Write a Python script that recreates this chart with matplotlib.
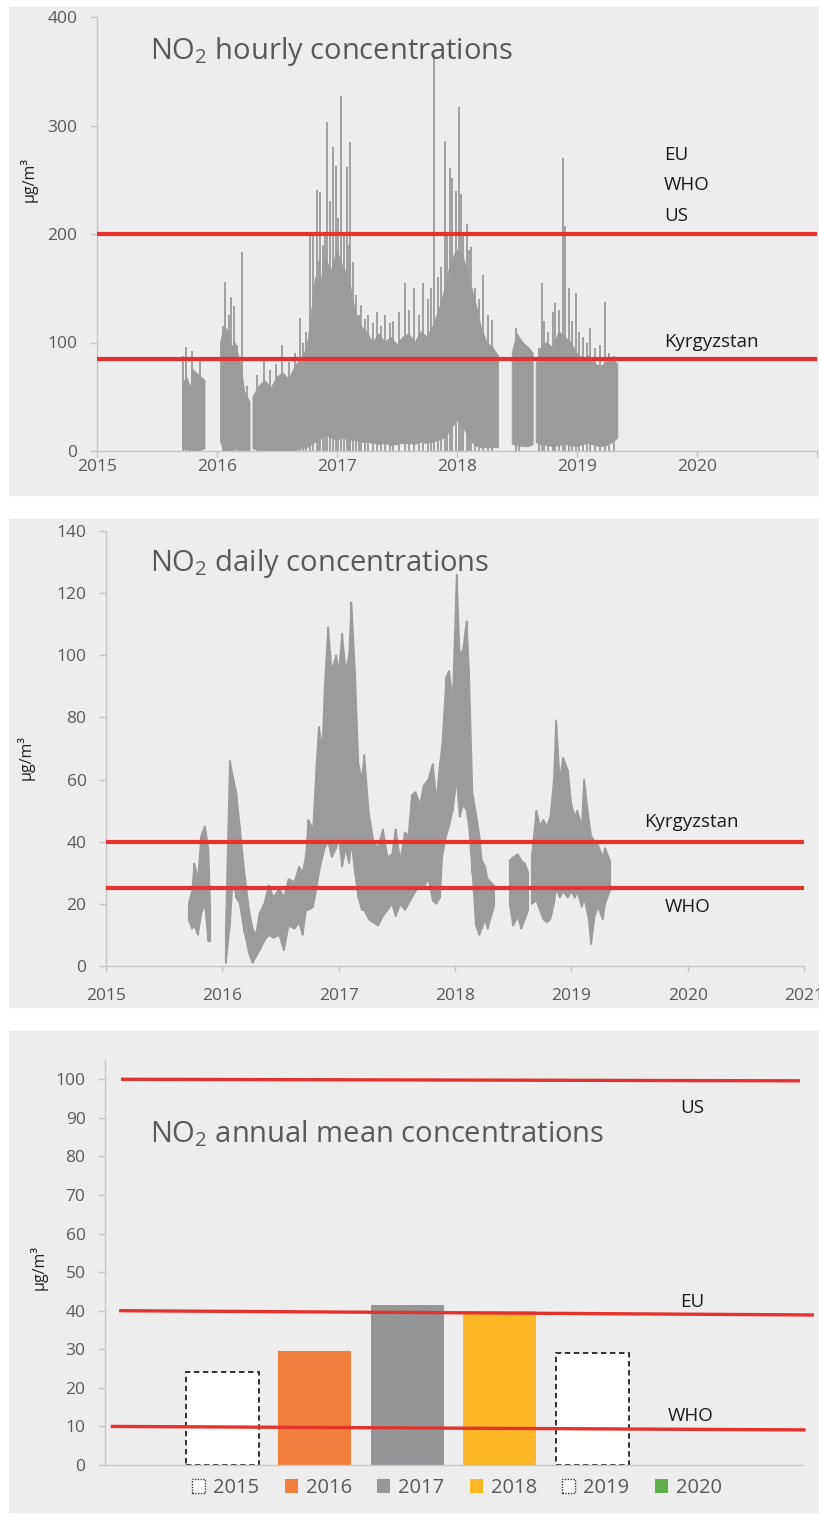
import numpy as np
import matplotlib
matplotlib.use("Agg")
import matplotlib.pyplot as plt
from matplotlib.patches import Rectangle, Patch

plt.rcParams['font.family'] = ['Open Sans', 'DejaVu Sans']

nan = np.nan

# hourly NO2: envelope of the dense band (decimal years) + individual peaks
hourly_t = [2015.714, 2015.75, 2015.78, 2015.80, 2015.85, 2015.90, nan,
            2016.03, 2016.06, 2016.10, 2016.13, 2016.15, 2016.20, 2016.23, 2016.275, nan,
            2016.30, 2016.35, 2016.40, 2016.45, 2016.50, 2016.55, 2016.60, 2016.65, 2016.70, 2016.75,
            2016.78, 2016.82, 2016.86, 2016.90, 2016.95, 2017.00, 2017.05, 2017.10, 2017.15, 2017.20,
            2017.25, 2017.30, 2017.35, 2017.40, 2017.45, 2017.50, 2017.55, 2017.60, 2017.65, 2017.70,
            2017.75, 2017.80, 2017.85, 2017.90, 2017.95,
            2018.00, 2018.05, 2018.10, 2018.15, 2018.20, 2018.25, 2018.30, 2018.345, nan,
            2018.46, 2018.50, 2018.55, 2018.60, 2018.635, nan,
            2018.66, 2018.70, 2018.75, 2018.80, 2018.85, 2018.90, 2018.95, 2019.00, 2019.05, 2019.10,
            2019.15, 2019.20, 2019.25, 2019.30, 2019.34]
hourly_hi = [62, 68, 58, 75, 70, 65, nan,
             100, 115, 110, 95, 100, 80, 55, 45, nan,
             50, 60, 65, 58, 68, 72, 66, 78, 85, 95,
             120, 160, 150, 180, 165, 185, 170, 160, 130, 115,
             110, 100, 108, 100, 105, 98, 105, 108, 100, 110,
             105, 115, 130, 150, 175,
             185, 180, 160, 140, 115, 100, 95, 88, nan,
             90, 108, 100, 95, 90, nan,
             80, 95, 100, 95, 110, 105, 100, 90, 85, 88,
             80, 78, 82, 85, 80]
hourly_lo = [2, 1, 0, 0, 0, 2, nan,
             8, 0, 0, 0, 2, 0, 0, 0, nan,
             2, 0, 0, 0, 0, 0, 0, 0, 2, 3,
             5, 8, 10, 15, 12, 10, 12, 10, 10, 8,
             8, 7, 6, 7, 5, 6, 7, 7, 6, 8,
             7, 8, 10, 12, 20,
             28, 22, 12, 5, 3, 3, 3, 3, nan,
             6, 5, 4, 4, 6, nan,
             8, 6, 5, 4, 5, 6, 5, 4, 6, 7,
             5, 4, 5, 8, 12]
peak_t = [2015.72, 2015.745, 2015.79, 2015.86, 2016.05, 2016.07, 2016.10, 2016.12, 2016.14,
          2016.17, 2016.21, 2016.25, 2016.33, 2016.39, 2016.44, 2016.49, 2016.54, 2016.60,
          2016.65, 2016.69, 2016.72, 2016.745, 2016.775, 2016.80, 2016.83, 2016.85, 2016.86,
          2016.88, 2016.90, 2016.92, 2016.94, 2016.97, 2016.99, 2017.01, 2017.035, 2017.06,
          2017.08, 2017.10, 2017.11, 2017.13, 2017.155, 2017.18, 2017.20, 2017.23, 2017.26,
          2017.30, 2017.33, 2017.37, 2017.40, 2017.44, 2017.47, 2017.52, 2017.57, 2017.60,
          2017.64, 2017.68, 2017.72, 2017.76, 2017.78, 2017.81, 2017.84, 2017.87, 2017.90,
          2017.92, 2017.94, 2017.96, 2017.99, 2018.02, 2018.03, 2018.05, 2018.08, 2018.10,
          2018.12, 2018.15, 2018.18, 2018.22, 2018.26, 2018.29, 2018.49, 2018.52, 2018.68,
          2018.71, 2018.725, 2018.76, 2018.80, 2018.82, 2018.85, 2018.88, 2018.90, 2018.93,
          2018.96, 2018.99, 2019.02, 2019.05, 2019.08, 2019.11, 2019.15, 2019.19, 2019.23,
          2019.27, 2019.31]
peak_v = [88, 96, 92, 83, 115, 156, 125, 142, 134,
          98, 183, 60, 70, 83, 75, 80, 98, 82,
          90, 123, 100, 110, 200, 200, 241, 175, 239,
          190, 200, 303, 230, 280, 263, 215, 327, 200,
          262, 190, 285, 174, 144, 125, 135, 122, 125,
          118, 128, 115, 125, 118, 120, 128, 155, 130,
          150, 125, 155, 140, 150, 365, 160, 170, 286,
          200, 261, 252, 240, 317, 237, 200, 209, 185,
          188, 150, 140, 162, 125, 121, 113, 105, 95,
          155, 120, 110, 128, 136, 130, 270, 207, 150,
          120, 146, 110, 105, 100, 113, 95, 98, 137,
          90, 88]

# daily NO2: max / min envelope
daily_t = [2015.71, 2015.74, 2015.76, 2015.79, 2015.82, 2015.85, 2015.88, 2015.895, nan,
           2016.03, 2016.065, 2016.09, 2016.12, 2016.15, 2016.19, 2016.23, 2016.26, 2016.29, 2016.32,
           2016.36, 2016.40, 2016.44, 2016.49, 2016.53, 2016.57, 2016.62, 2016.66, 2016.69, 2016.72,
           2016.74, 2016.78, 2016.81, 2016.83, 2016.86, 2016.88, 2016.91, 2016.94, 2016.98, 2017.00,
           2017.03, 2017.06, 2017.09, 2017.11, 2017.14, 2017.17, 2017.20, 2017.22, 2017.26, 2017.30,
           2017.34, 2017.38, 2017.42, 2017.46, 2017.49, 2017.53, 2017.57, 2017.60, 2017.63, 2017.66,
           2017.70, 2017.73, 2017.77, 2017.81, 2017.84, 2017.87, 2017.89, 2017.925, 2017.95, 2017.98,
           2018.015, 2018.04, 2018.07, 2018.10, 2018.12, 2018.15, 2018.18, 2018.21, 2018.23, 2018.26,
           2018.28, 2018.335, nan,
           2018.47, 2018.50, 2018.54, 2018.57, 2018.60, 2018.63, nan,
           2018.66, 2018.70, 2018.73, 2018.76, 2018.79, 2018.82, 2018.85, 2018.87, 2018.90, 2018.93,
           2018.97, 2019.00, 2019.03, 2019.05, 2019.09, 2019.11, 2019.15, 2019.17, 2019.20, 2019.23,
           2019.27, 2019.29, 2019.33]
daily_hi = [20, 24, 33, 28, 42, 45, 38, 20, nan,
            12, 66, 61, 56, 45, 30, 18, 12, 10, 17,
            20, 26, 22, 25, 22, 28, 27, 32, 30, 36,
            47, 44, 65, 77, 70, 90, 109, 95, 100, 94,
            107, 95, 100, 117, 95, 65, 60, 68, 49, 40,
            38, 44, 35, 36, 44, 34, 43, 42, 55, 56,
            52, 58, 60, 65, 53, 65, 71, 93, 95, 85,
            126, 100, 102, 111, 95, 56, 49, 42, 34, 32,
            28, 26, nan,
            34, 35, 36, 34, 33, 30, nan,
            35, 50, 45, 47, 45, 48, 60, 79, 60, 67,
            63, 52, 48, 50, 45, 60, 47, 42, 40, 39,
            35, 38, 34]
daily_lo = [15, 12, 13, 10, 17, 20, 8, 8, nan,
            1, 13, 28, 22, 20, 11, 4, 1, 3, 5,
            8, 10, 9, 10, 5, 13, 12, 14, 10, 18,
            18, 19, 25, 30, 35, 38, 40, 35, 38, 42,
            32, 38, 33, 40, 30, 22, 18, 18, 15, 14,
            13, 16, 18, 20, 16, 20, 18, 20, 22, 24,
            26, 25, 28, 21, 20, 22, 35, 42, 45, 50,
            60, 48, 52, 50, 45, 30, 13, 10, 12, 15,
            12, 19, nan,
            20, 13, 16, 12, 15, 18, nan,
            20, 21, 18, 15, 14, 15, 20, 25, 22, 24,
            22, 24, 22, 24, 19, 22, 15, 7, 16, 19,
            15, 20, 24]

# limit values
hourly_limits = [200, 85]
daily_limits = [40, 25]
annual_limit_start = [100, 40, 10]
annual_limit_end = [99.6, 38.9, 9.1]

# annual means
years = ['2015', '2016', '2017', '2018', '2019', '2020']
annual_mean = [24.0, 29.5, 41.5, 40.0, 29.0, nan]
bar_colors = ['white', '#F07F3C', '#959697', '#FCB827', 'white', '#62AE4B']
bar_dashed = [True, False, False, False, True, False]

W, H = 820, 1515
RED = '#E5322B'
BAND = '#9B9B9B'
TXT = '#595959'
SPINE = '#C6C6C6'

fig = plt.figure(figsize=(W / 100, H / 100), dpi=100)


def fx(x):
    return x / W


def fy(y):
    return 1 - y / H


def box(x0, y0, x1, y1):
    return [fx(x0), fy(y1), fx(x1) - fx(x0), fy(y0) - fy(y1)]


# panel backgrounds
for (y0, y1) in [(7, 495), (519, 1007), (1031, 1512)]:
    fig.patches.append(Rectangle((fx(9), fy(y1)), fx(820) - fx(9), fy(y0) - fy(y1),
                                 transform=fig.transFigure, color='#EDEDED', zorder=-5))


def style(ax, xpad):
    ax.set_facecolor('none')
    for s in ['top', 'right']:
        ax.spines[s].set_visible(False)
    for s in ['left', 'bottom']:
        ax.spines[s].set_color(SPINE)
        ax.spines[s].set_linewidth(1.0)
    ax.tick_params(colors=SPINE, labelcolor=TXT, labelsize=12.5, length=5, width=1)
    ax.tick_params(axis='y', pad=9)
    ax.tick_params(axis='x', pad=xpad, length=4)


def title(x, y, s):
    fig.text(fx(x), fy(y), r'NO$_\mathregular{2}$ ' + s, fontsize=21, color=TXT,
             ha='left', va='baseline')


def unit(x, y):
    fig.text(fx(x), fy(y), 'µg/m³', fontsize=11.5, rotation=90, ha='center', va='center',
             color='#222222')


def lab(x, y, s):
    fig.text(fx(x), fy(y), s, fontsize=13.5, color='#1A1A1A', ha='left', va='center')


# ---- hourly ----
ax1 = fig.add_axes(box(97, 17, 817, 451))
style(ax1, 2)
ht = np.array(hourly_t)
ax1.fill_between(ht, hourly_lo, hourly_hi, color=BAND, lw=0.6, edgecolor=BAND)
ax1.vlines(peak_t, 0, peak_v, color=BAND, lw=1.3)
for v in hourly_limits:
    ax1.axhline(v, color=RED, lw=3.0, zorder=3)
ax1.set_xlim(2015, 2021)
ax1.set_ylim(0, 400)
ax1.set_xticks(range(2015, 2022))
ax1.set_xticklabels([str(y) for y in range(2015, 2021)] + [''])
ax1.set_yticks(range(0, 401, 100))
title(150, 59, 'hourly concentrations')
unit(29, 180)
for s, y in zip(['EU', 'WHO', 'US'], [155, 185, 216]):
    lab(664, y, s)
lab(664, 342, 'Kyrgyzstan')

# ---- daily ----
ax2 = fig.add_axes(box(106, 531, 804, 966))
style(ax2, 12)
dt = np.array(daily_t)
ax2.fill_between(dt, daily_lo, daily_hi, color=BAND, lw=0)
ax2.plot(dt, daily_hi, color=BAND, lw=1.2)
ax2.plot(dt, daily_lo, color=BAND, lw=1.2)
ax2.vlines(dt, daily_lo, daily_hi, color=BAND, lw=1.5)
for v in daily_limits:
    ax2.axhline(v, color=RED, lw=3.0, zorder=3)
ax2.set_xlim(2015, 2021)
ax2.set_ylim(0, 140)
ax2.set_xticks(range(2015, 2022))
ax2.set_yticks(range(0, 141, 20))
title(150, 571, 'daily concentrations')
unit(26, 757)
lab(644, 822, 'Kyrgyzstan')
lab(665, 907, 'WHO')

# ---- annual ----
ax3 = fig.add_axes(box(105, 1060, 803, 1465))
style(ax3, 2)
xpos = np.arange(len(years))
for i in range(len(years)):
    if np.isnan(annual_mean[i]):
        continue
    if bar_dashed[i]:
        ax3.bar(xpos[i], annual_mean[i], 0.79, color='white', edgecolor='#222222',
                linestyle=(0, (3, 2)), lw=1.3, zorder=2)
    else:
        ax3.bar(xpos[i], annual_mean[i], 0.79, color=bar_colors[i], lw=0, zorder=2)
ax3.set_xlim(-1.27, 6.28)
ax3.set_ylim(0, 105)
ax3.set_yticks(range(0, 101, 10))
ax3.set_xticks([])
x_start = [-1.08, -1.10, -1.19]
x_end = [6.23, 6.38, 6.29]
for a, b, xa, xb in zip(annual_limit_start, annual_limit_end, x_start, x_end):
    ax3.plot([xa, xb], [a, b], color=RED, lw=2.4, zorder=3, clip_on=False)
title(150, 1142, 'annual mean concentrations')
unit(39, 1267)
lab(680, 1108, 'US')
lab(680, 1302, 'EU')
lab(668, 1416, 'WHO')

handles = []
for c, d in zip(bar_colors, bar_dashed):
    if d:
        handles.append(Patch(facecolor='white', edgecolor='#333333', linestyle=(0, (1, 1)), lw=1))
    else:
        handles.append(Patch(facecolor=c, edgecolor='none'))
fig.legend(handles, years, loc='center', bbox_to_anchor=(fx(457), fy(1488)), ncol=6,
           frameon=False, fontsize=14.5, handlelength=0.65, handleheight=0.65,
           handletextpad=0.4, columnspacing=1.25, labelcolor=TXT)

fig.savefig('out.png', dpi=100, facecolor='white')
